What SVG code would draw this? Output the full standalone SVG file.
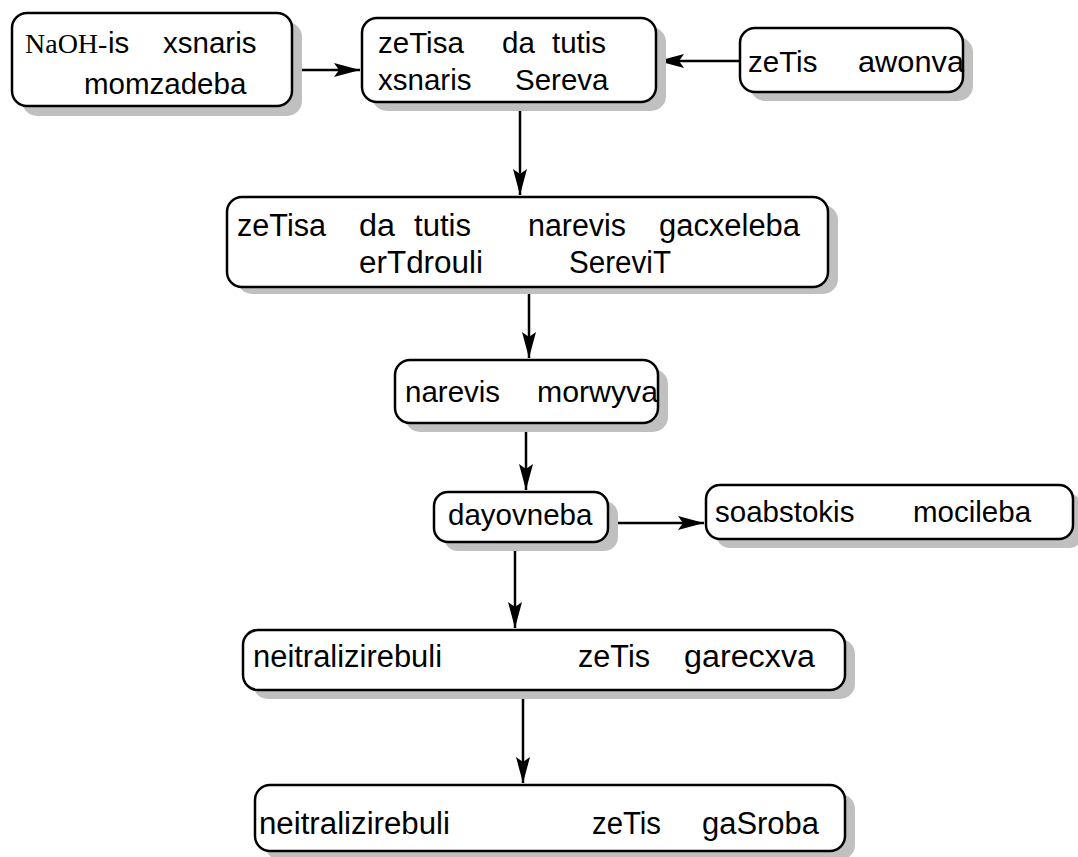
<svg xmlns="http://www.w3.org/2000/svg" width="1078" height="857" viewBox="0 0 1078 857">
<style>
.box{fill:#fff;stroke:#000;stroke-width:2.5}
.sh{fill:#c0c0c0;stroke:none}
.t{font-family:"Liberation Sans",Arial,sans-serif;font-size:29.5px;fill:#000}
.w{font-size:31px}
.s{font-family:"Liberation Serif","Times New Roman",serif;font-size:28px;fill:#000}
.c{stroke:#000;stroke-width:2.5;fill:none}
</style>
<defs>
<marker id="ah" markerWidth="28" markerHeight="16" refX="26" refY="8" orient="auto" markerUnits="userSpaceOnUse">
<path d="M0,1 L26,8 L0,15 L5,8 z" fill="#000"/>
</marker>
</defs>
<rect width="1078" height="857" fill="#fff"/>
<g id="connectors">
<line class="c" x1="292" y1="70" x2="360" y2="70" marker-end="url(#ah)"/>
<line class="c" x1="740" y1="61" x2="658" y2="61" marker-end="url(#ah)"/>
<line class="c" x1="520" y1="102" x2="520" y2="195" marker-end="url(#ah)"/>
<line class="c" x1="529" y1="287" x2="529" y2="358" marker-end="url(#ah)"/>
<line class="c" x1="526" y1="423" x2="526" y2="490" marker-end="url(#ah)"/>
<line class="c" x1="608" y1="523" x2="704" y2="523" marker-end="url(#ah)"/>
<line class="c" x1="515" y1="542" x2="515" y2="628" marker-end="url(#ah)"/>
<line class="c" x1="523" y1="690" x2="523" y2="783" marker-end="url(#ah)"/>
</g>
<g id="n1">
<rect class="sh" x="22" y="22" width="280" height="94" rx="15"/>
<rect class="box" x="12" y="13" width="280" height="93" rx="15"/>
<text x="25" y="53"><tspan class="s">NaOH-</tspan><tspan class="t" x="108">is</tspan><tspan class="t" x="163">xsnaris</tspan></text>
<text class="t" x="84" y="94">momzadeba</text>
</g>
<g id="n2">
<rect class="sh" x="372" y="27" width="294" height="84" rx="15"/>
<rect class="box" x="362" y="18" width="294" height="84" rx="15"/>
<text class="t" y="53"><tspan x="378">zeTisa</tspan><tspan x="502">da</tspan><tspan x="552">tutis</tspan></text>
<text class="t" y="90"><tspan x="378">xsnaris</tspan><tspan x="515">Sereva</tspan></text>
</g>
<g id="n3">
<rect class="sh" x="750" y="37" width="223" height="64" rx="15"/>
<rect class="box" x="740" y="28" width="223" height="64" rx="15"/>
<text class="t" y="72"><tspan x="748">zeTis</tspan><tspan x="858" textLength="106" lengthAdjust="spacingAndGlyphs">awonva</tspan></text>
</g>
<g id="n4">
<rect class="sh" x="237" y="205" width="601" height="89" rx="15"/>
<rect class="box" x="227" y="197" width="601" height="90" rx="15"/>
<text class="t w" y="236"><tspan x="237" textLength="89" lengthAdjust="spacingAndGlyphs">zeTisa</tspan><tspan x="359" textLength="36" lengthAdjust="spacingAndGlyphs">da</tspan><tspan x="414" textLength="57" lengthAdjust="spacingAndGlyphs">tutis</tspan><tspan x="528" textLength="98" lengthAdjust="spacingAndGlyphs">narevis</tspan><tspan x="659" textLength="141" lengthAdjust="spacingAndGlyphs">gacxeleba</tspan></text>
<text class="t w" y="273"><tspan x="359" textLength="124" lengthAdjust="spacingAndGlyphs">erTdrouli</tspan><tspan x="569" textLength="102" lengthAdjust="spacingAndGlyphs">SereviT</tspan></text>
</g>
<g id="n5">
<rect class="sh" x="405" y="369" width="263" height="63" rx="15"/>
<rect class="box" x="395" y="360" width="263" height="63" rx="15"/>
<text class="t" y="402"><tspan x="405">narevis</tspan><tspan x="537" textLength="121" lengthAdjust="spacingAndGlyphs">morwyva</tspan></text>
</g>
<g id="n6">
<rect class="sh" x="444" y="501" width="174" height="50" rx="14"/>
<rect class="box" x="434" y="492" width="174" height="50" rx="14"/>
<text class="t" x="448" y="525">dayovneba</text>
</g>
<g id="n7">
<rect class="sh" x="716" y="494" width="367" height="54" rx="14"/>
<rect class="box" x="706" y="485" width="367" height="54" rx="14"/>
<text class="t" y="522"><tspan x="715">soabstokis</tspan><tspan x="913">mocileba</tspan></text>
</g>
<g id="n8">
<rect class="sh" x="253" y="639" width="602" height="60" rx="15"/>
<rect class="box" x="243" y="630" width="602" height="60" rx="15"/>
<text class="t w" y="667"><tspan x="253" textLength="189" lengthAdjust="spacingAndGlyphs">neitralizirebuli</tspan><tspan x="578" textLength="72" lengthAdjust="spacingAndGlyphs">zeTis</tspan><tspan x="684" textLength="131" lengthAdjust="spacingAndGlyphs">garecxva</tspan></text>
</g>
<g id="n9">
<rect class="sh" x="265" y="794" width="590" height="66" rx="15"/>
<rect class="box" x="255" y="785" width="590" height="66" rx="15"/>
<text class="t w" y="834"><tspan x="259" textLength="191" lengthAdjust="spacingAndGlyphs">neitralizirebuli</tspan><tspan x="592" textLength="69" lengthAdjust="spacingAndGlyphs">zeTis</tspan><tspan x="702" textLength="117" lengthAdjust="spacingAndGlyphs">gaSroba</tspan></text>
</g>
</svg>
